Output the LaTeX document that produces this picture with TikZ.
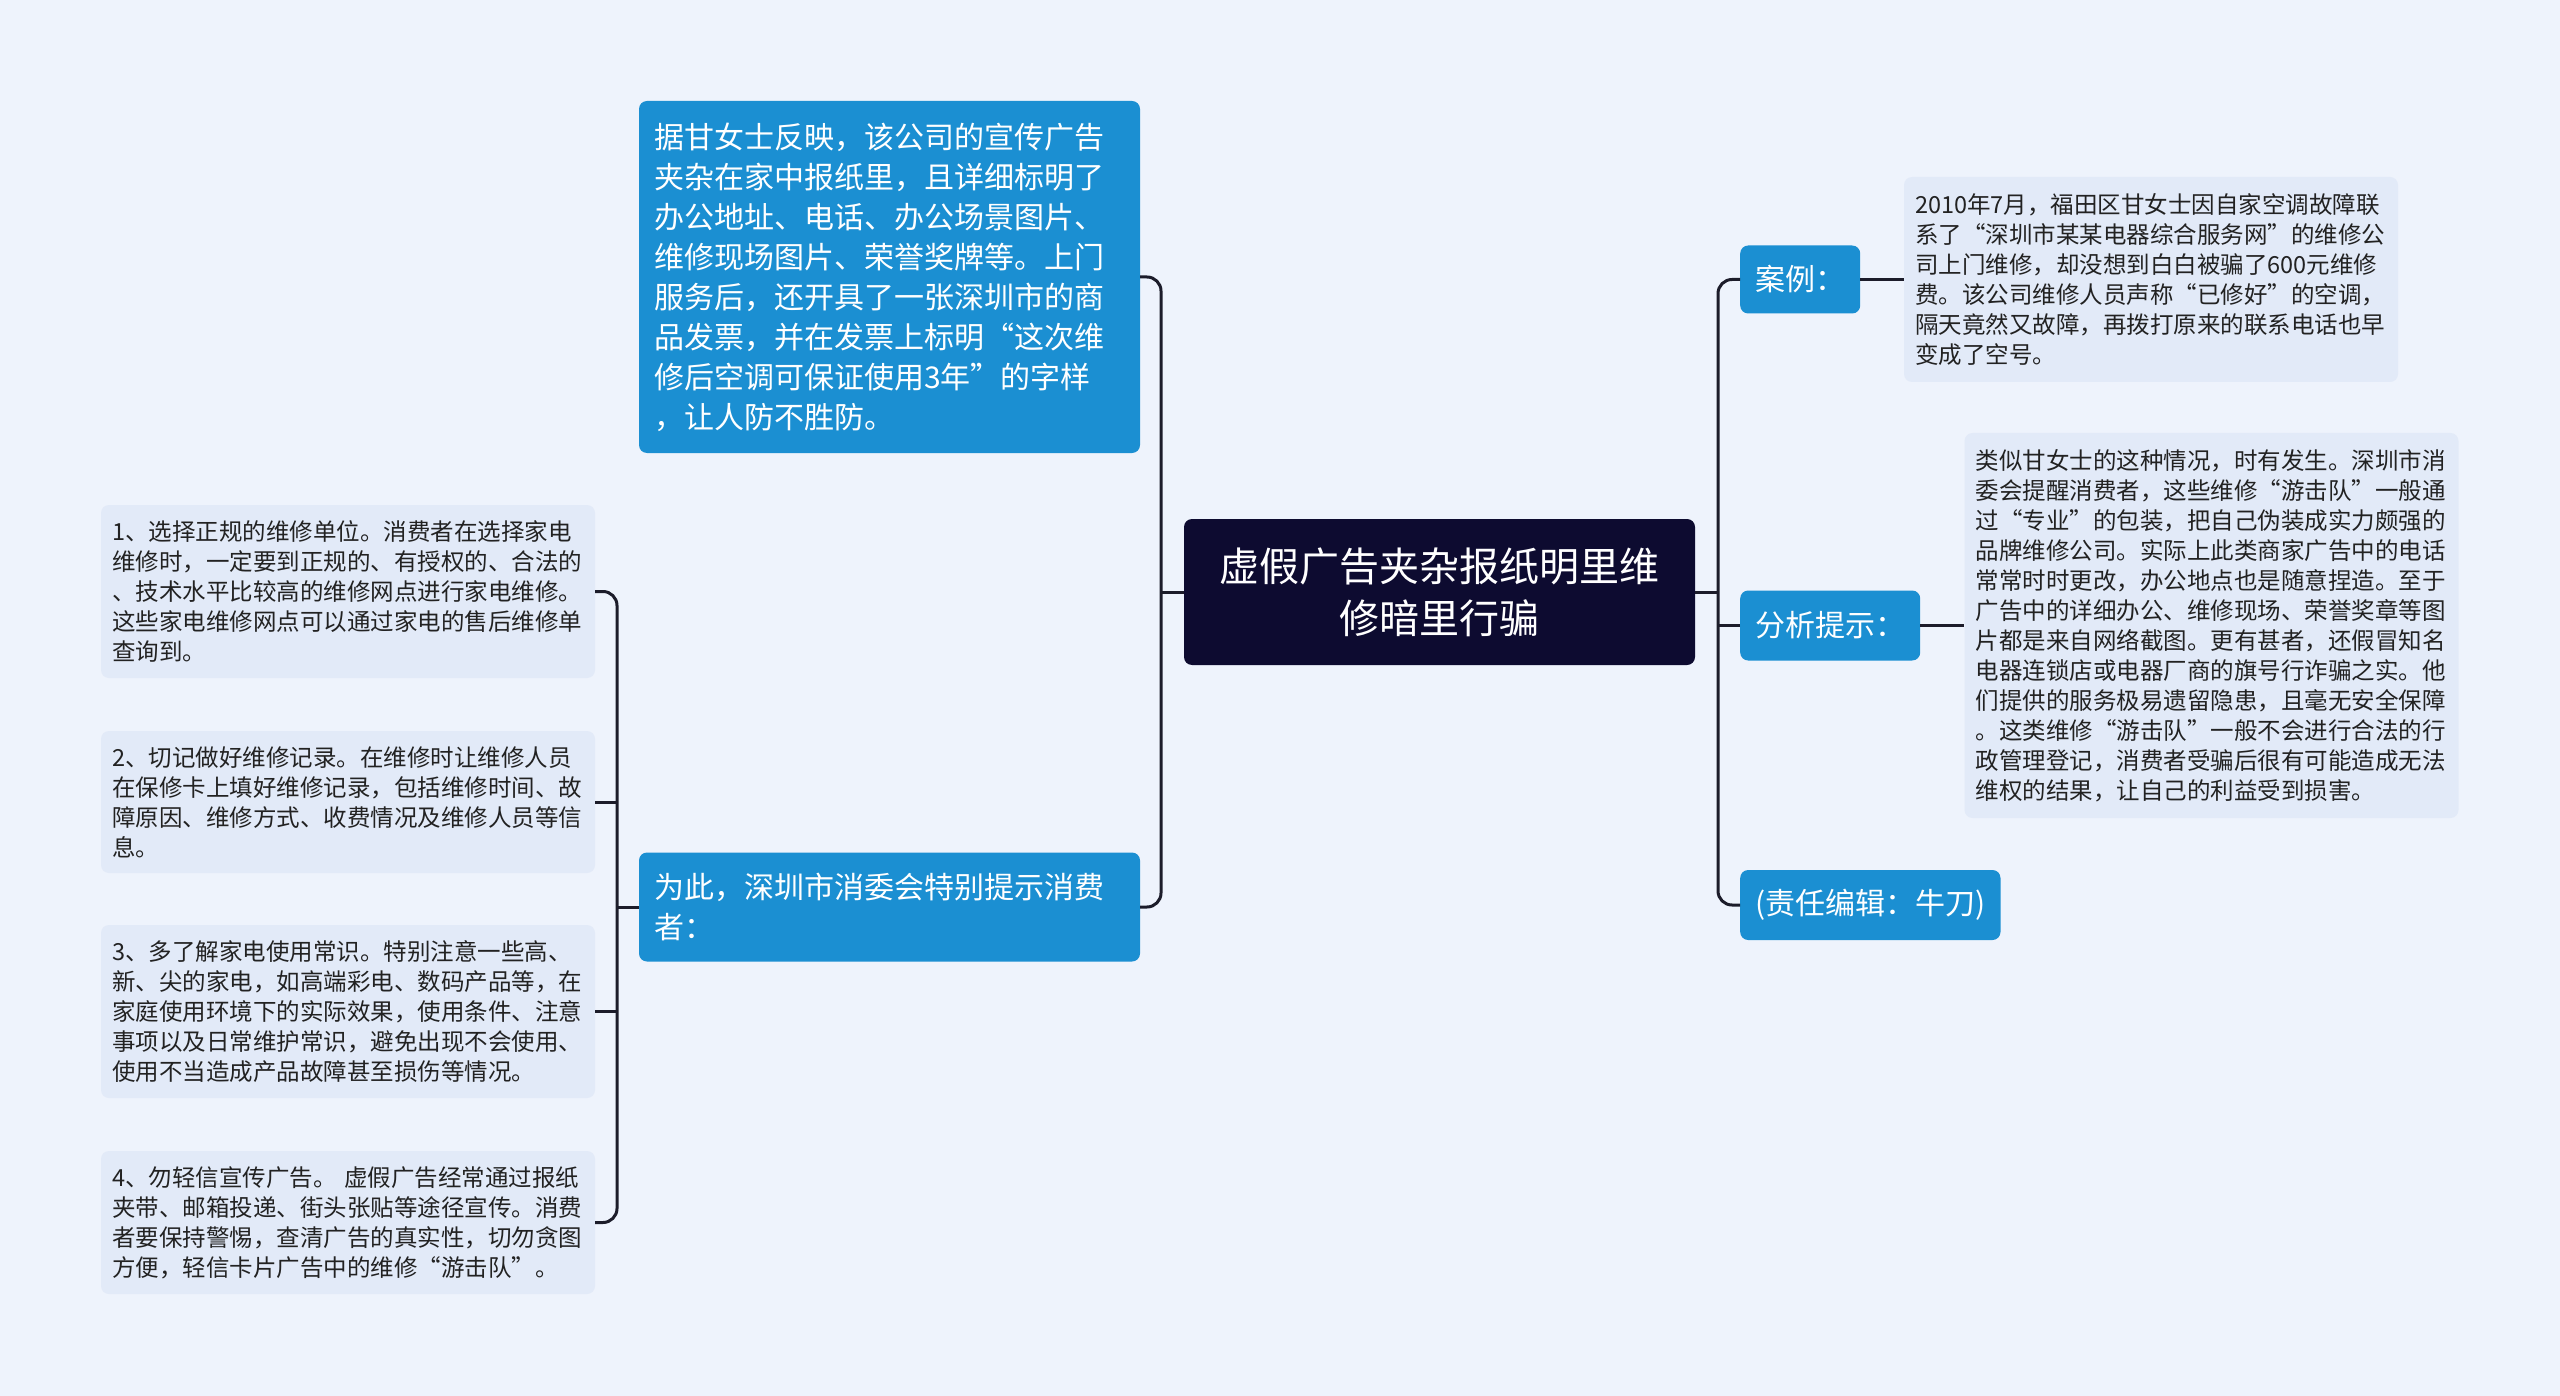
\documentclass[tikz,border=0pt]{standalone}
\usepackage{fontspec}
\setmainfont{Noto Sans CJK SC}
\definecolor{bgc}{RGB}{238,243,252}
\definecolor{leafc}{RGB}{226,234,248}
\definecolor{bluec}{RGB}{27,143,210}
\definecolor{rootc}{RGB}{13,11,48}
\definecolor{linec}{RGB}{28,28,42}
\definecolor{txtc}{RGB}{34,34,34}
\tikzset{
  conn/.style={draw=linec, line width=3pt, rounded corners=14pt},
  rootbox/.style={fill=rootc, rounded corners=8pt, text=white, align=center,
    font=\fontsize{40}{52}\selectfont, minimum width=511pt, minimum height=146pt, inner sep=0pt},
  bluebox/.style={fill=bluec, rounded corners=8pt, text=white, align=left,
    font=\fontsize{30}{40}\selectfont, inner xsep=15pt, inner ysep=0pt},
  smallbox/.style={fill=bluec, rounded corners=8pt, text=white, anchor=west,
    font=\fontsize{30}{40}\selectfont, inner xsep=15pt, inner ysep=0pt, minimum height=68pt},
  leafbox/.style={fill=leafc, rounded corners=8pt, text=txtc, align=left,
    font=\fontsize{23.5}{30}\selectfont, inner xsep=11pt, inner ysep=0pt, text width=472pt}
}
\begin{document}
\begin{tikzpicture}[x=1pt,y=-1pt]
\fill[bgc] (0,0) rectangle (2560,1396);
\useasboundingbox (0,0) rectangle (2560,1396);

% root
\node[rootbox] (root) at (1439.5,592) {虚假广告夹杂报纸明里维\\修暗里行骗};

% left blue boxes
\node[bluebox, text width=471pt, minimum height=352pt] (top) at (889.5,277) {据甘女士反映，该公司的宣传广告\\夹杂在家中报纸里，且详细标明了\\办公地址、电话、办公场景图片、\\维修现场图片、荣誉奖牌等。上门\\服务后，还开具了一张深圳市的商\\品发票，并在发票上标明“这次维\\修后空调可保证使用3年”的字样\\，让人防不胜防。};
\node[bluebox, text width=471pt, minimum height=109pt] (bot) at (889.5,907) {为此，深圳市消委会特别提示消费\\者：};

% left leaves
\node[leafbox, minimum height=173pt] (l1) at (348,591.5) {1、选择正规的维修单位。消费者在选择家电\\维修时，一定要到正规的、有授权的、合法的\\、技术水平比较高的维修网点进行家电维修。\\这些家电维修网点可以通过家电的售后维修单\\查询到。};
\node[leafbox, minimum height=142pt] (l2) at (348,802) {2、切记做好维修记录。在维修时让维修人员\\在保修卡上填好维修记录，包括维修时间、故\\障原因、维修方式、收费情况及维修人员等信\\息。};
\node[leafbox, minimum height=173pt] (l3) at (348,1011.5) {3、多了解家电使用常识。特别注意一些高、\\新、尖的家电，如高端彩电、数码产品等，在\\家庭使用环境下的实际效果，使用条件、注意\\事项以及日常维护常识，避免出现不会使用、\\使用不当造成产品故障甚至损伤等情况。};
\node[leafbox, minimum height=143pt] (l4) at (348,1222.5) {4、勿轻信宣传广告。 虚假广告经常通过报纸\\夹带、邮箱投递、街头张贴等途径宣传。消费\\者要保持警惕，查清广告的真实性，切勿贪图\\方便，轻信卡片广告中的维修“游击队”。};

% right small nodes
\node[smallbox] (n1) at (1740,279.5) {案例：};
\node[smallbox, minimum height=70pt] (n2) at (1740,625.5) {分析提示：};
\node[smallbox, minimum height=70pt] (n3) at (1740,905) {(责任编辑：牛刀)};

% right leaves
\node[leafbox, minimum height=205pt] (c1) at (2151,279.5) {2010年7月，福田区甘女士因自家空调故障联\\系了“深圳市某某电器综合服务网”的维修公\\司上门维修，却没想到白白被骗了600元维修\\费。该公司维修人员声称“已修好”的空调，\\隔天竟然又故障，再拨打原来的联系电话也早\\变成了空号。};
\node[leafbox, minimum height=385pt] (c2) at (2211.5,625.5) {类似甘女士的这种情况，时有发生。深圳市消\\委会提醒消费者，这些维修“游击队”一般通\\过“专业”的包装，把自己伪装成实力颇强的\\品牌维修公司。实际上此类商家广告中的电话\\常常时时更改，办公地点也是随意捏造。至于\\广告中的详细办公、维修现场、荣誉奖章等图\\片都是来自网络截图。更有甚者，还假冒知名\\电器连锁店或电器厂商的旗号行诈骗之实。他\\们提供的服务极易遗留隐患，且毫无安全保障\\。这类维修“游击队”一般不会进行合法的行\\政管理登记，消费者受骗后很有可能造成无法\\维权的结果，让自己的利益受到损害。};

% spine coordinates
\coordinate (ls) at (1161,592);
\coordinate (ls2) at (617,907);
\coordinate (rs) at (1718,592);

% connectors left
\draw[conn] (root.west) -- (ls);
\draw[conn] (top.east) -| (ls) |- (bot.east);
\draw[conn] (bot.west) -- (ls2);
\draw[conn] (l1.east) -| (ls2) |- (l4.east);
\draw[conn] (l2.east) -- (l2.east -| ls2);
\draw[conn] (l3.east) -- (l3.east -| ls2);

% connectors right
\draw[conn] (root.east) -- (rs);
\draw[conn] (n1.west) -| (rs) |- (n3.west);
\draw[conn] (n2.west) -- (n2.west -| rs);
\draw[conn] (n1.east) -- (c1.west);
\draw[conn] (n2.east) -- (c2.west);
\end{tikzpicture}
\end{document}
